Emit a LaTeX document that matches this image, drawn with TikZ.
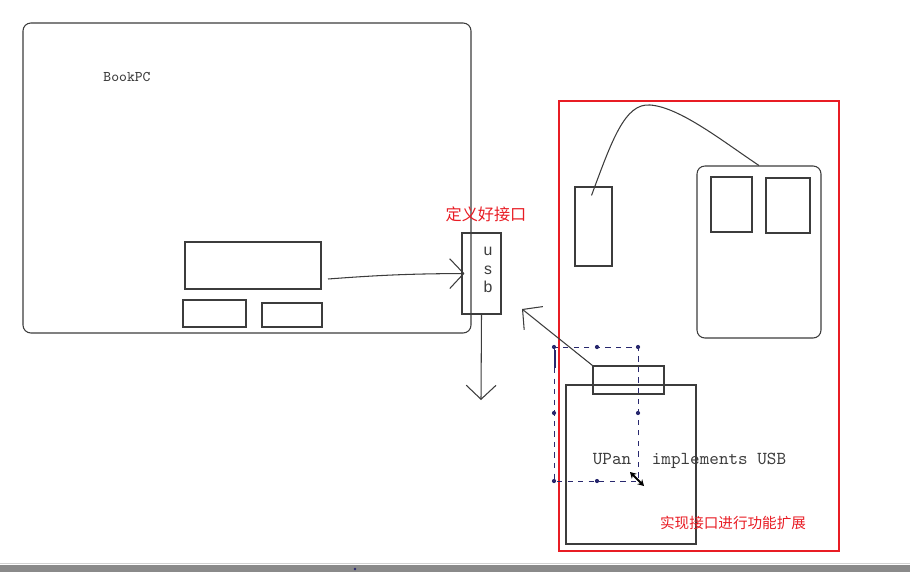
\documentclass[tikz,border=0pt]{standalone}
\usepackage{fontspec}
\setsansfont{Liberation Sans}
\newfontfamily\cjk{Noto Sans CJK SC}
\usepackage{tikz}
\usetikzlibrary{arrows.meta, fit, calc}
\definecolor{SkRed}{RGB}{232,28,36}
\definecolor{SkLine}{RGB}{60,60,60}
\definecolor{SkNavy}{RGB}{40,40,110}
\definecolor{SkBar}{RGB}{138,138,138}

\begin{document}
\begin{tikzpicture}[x=0.02cm, y=-0.02cm,
    box/.style={rectangle, draw=SkLine, line width=0.6pt, inner sep=0pt},
    rbox/.style={box, rounded corners=4.5pt},
    frame/.style={rectangle, draw=SkRed, line width=1.2pt, inner sep=0pt},
    arr/.style={-{Straight Barb[length=8pt, width=17pt]}, SkLine, line width=0.6pt},
    mono/.style={font=\ttfamily\fontsize{10.4}{12}\selectfont, text=SkLine},
    note/.style={font=\cjk\fontsize{8.3}{10}\selectfont, text=SkRed},
    sel/.style={SkNavy, dashed, line width=0.5pt},
    handle/.style={circle, fill=SkNavy, inner sep=0pt, minimum size=2.4pt}
  ]
  \useasboundingbox (0,0) rectangle (910,572);

  % BookPC side
  \node[rbox, fit={(23,23) (471,333)}] (pc) {};
  \node[mono, font=\ttfamily\fontsize{8.4}{10}\selectfont] (pcname) at (127,77) {BookPC};
  \node[box, fit={(185,242) (321,289)}] (board) {};
  \node[box, fit={(183,300) (246,327)}] (slotA) {};
  \node[box, fit={(262,303) (322,327)}] (slotB) {};

  \node[box, fit={(462,233) (501,314)}] (usb) {};
  \node[font=\sffamily\fontsize{9}{10.5}\selectfont, align=center, text=SkLine] (usbtxt) at (488,270) {u\\s\\b};
  \node[note, font=\cjk\fontsize{9.2}{11}\selectfont] (deflbl) at (486,214) {定义好接口};

  \coordinate (boardout) at (328,279);
  \coordinate (down) at (481,400);
  \coordinate (back) at (522,309);
  \draw[arr] (boardout) to[bend left=2] ([xshift=0.06cm]usb.west);
  \draw[arr] (usb.south) -- (down);

  % implementing side
  \node[frame, fit={(559,101) (839,551)}] (impl) {};
  \node[box, fit={(575,187) (612,266)}] (phone) {};
  \node[rbox, fit={(697,166) (821,338)}] (dev) {};
  \node[box, fit={(711,177) (752,232)}] (devA) {};
  \node[box, fit={(766,178) (810,233)}] (devB) {};
  \draw[SkLine, line width=0.6pt] ($(phone.north)+(-2,9)$)
      .. controls (612,140) and (625,103) .. (650,105)
      .. controls (680,107) and (725,143) .. (dev.north);

  \node[box, fit={(566,385) (696,544)}] (upan) {};
  \node[box, fit={(593,366) (664,394)}] (plug) {};
  \draw[arr] (plug.north west) -- (back);
  \node[mono] (upanlbl) at (612,459) {UPan};
  \node[mono] (implbl) at (719,461) {implements USB};
  \node[note] (extlbl) at (733,523) {实现接口进行功能扩展};

  % selection frame
  \draw[sel] (554,347) rectangle (638,481);
  \foreach \p [count=\i] in {(554,347),(597,347),(638,347),(554,413),(638,413),(554,481),(597,481)}
    \node[handle] (h\i) at \p {};
  \draw[SkNavy, line width=1pt] (555,350) -- (555,368);
  \draw[black, line width=1.1pt, {Stealth[length=3.5pt,width=4pt]}-{Stealth[length=3.5pt,width=4pt]}] (630,472) -- (644,486);

  % window bar
  \fill[SkBar] (0,565) rectangle (910,572);
  \draw[gray!35] (0,563.5) -- (910,563.5);
  \fill[SkNavy] (355,569) circle (1.4);
\end{tikzpicture}
\end{document}
